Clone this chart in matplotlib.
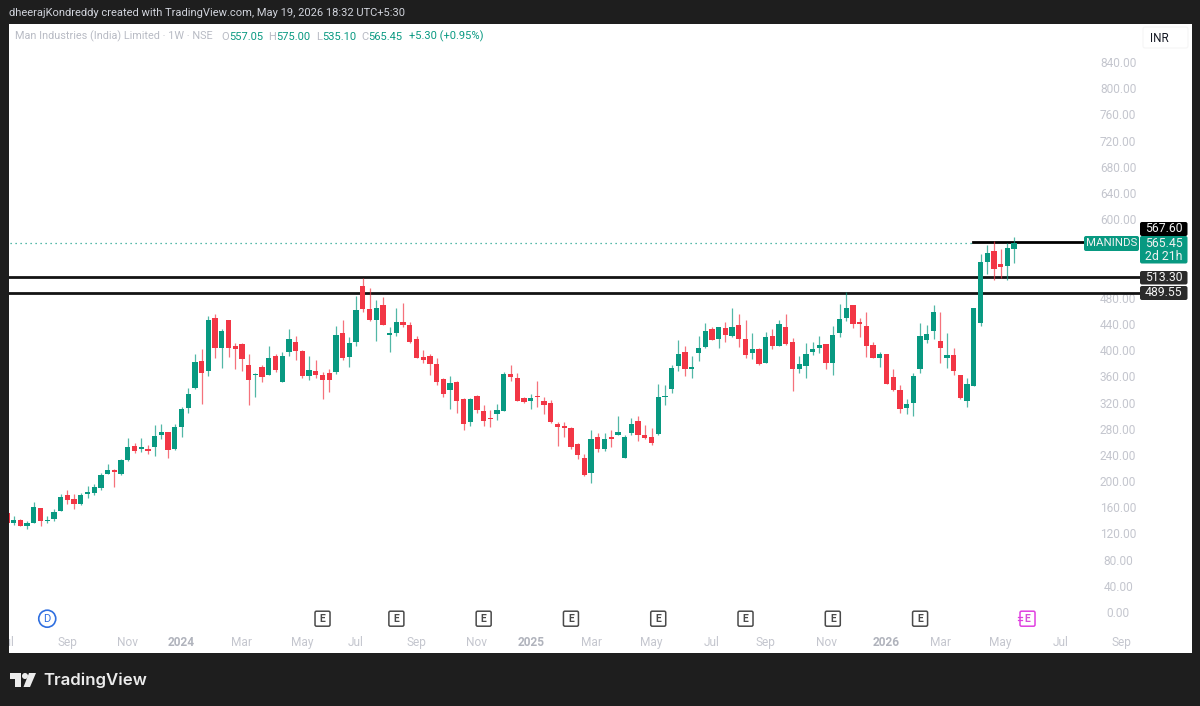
import matplotlib
matplotlib.use("Agg")
import matplotlib.pyplot as plt
from matplotlib.patches import FancyBboxPatch, Circle, Polygon

plt.rcParams['font.family'] = ['Roboto', 'DejaVu Sans']

# weekly candles, left to right
opens = [153,139,143,134,139,161,141,144,157,181,175,167,183,184,192,213,220,213,234,256,
         251,252,255,272,277,251,285,314,344,385,370,452,405,448,409,412,379,364,377,365,
         393,354,399,415,401,363,371,364,368,369,429,392,414,500,465,449,471,426,428,446,
         441,420,392,393,381,358,341,353,328,293,333,310,299,304,310,366,360,329,325,332,
         324,321,289,286,284,259,237,214,270,252,269,273,238,275,294,272,270,274,331,343,
         378,399,373,398,407,435,419,436,424,440,419,398,404,383,424,409,438,415,373,378,
         399,405,411,383,429,451,471,445,439,410,391,397,361,341,314,321,373,417,432,416,
         391,395,364,325,348,444,537,554,534,530,557.05]
closes = [139,143,134,139,162,142,143,155,178,173,167,181,186,193,211,219,216,234,255,249,
          255,249,271,277,250,285,312,336,384,367,449,405,431,405,404,389,356,366,362,391,
          372,393,419,401,363,372,364,357,356,425,391,413,464,465,448,467,441,429,445,440,
          415,391,387,381,354,335,352,324,289,328,311,294,297,311,366,361,325,323,329,331,
          319,292,285,284,254,242,212,266,251,267,267,277,270,290,272,268,261,331,333,375,
          397,373,376,405,431,418,437,425,437,419,395,404,381,423,409,442,412,374,381,397,
          404,410,383,425,450,466,442,442,408,391,396,350,341,313,320,363,424,427,461,405,
          395,370,329,350,466,537,550,526,529,559,565.45]
highs = [153,149,144,142,171,161,149,159,182,188,182,184,195,198,214,229,221,236,268,261,
         268,258,288,290,277,289,315,345,396,404,454,458,434,448,413,413,397,367,379,409,
         396,400,434,424,402,394,387,369,374,439,449,423,485,513,497,479,484,437,466,475,
         445,424,403,396,391,360,363,355,329,329,334,319,311,320,369,379,367,331,336,355,
         331,326,293,292,285,260,243,280,276,275,281,301,272,298,301,288,283,350,349,380,
         417,409,394,424,443,437,438,446,467,458,448,428,406,430,434,448,458,421,393,413,
         414,424,411,439,472,491,471,452,461,415,400,397,374,349,328,367,444,441,471,461,
         428,405,365,359,467,549,563,569,556,566,575]
lows = [135,135,133,129,138,134,139,141,157,167,160,166,176,181,188,213,193,212,233,245,
        247,243,241,267,238,250,270,306,343,320,363,390,375,392,373,371,318,330,354,365,
        369,354,394,387,360,357,359,327,338,366,387,376,408,460,447,416,440,399,424,437,
        413,390,383,364,349,331,313,306,280,287,307,286,285,296,309,355,324,321,312,315,
        305,291,256,269,251,236,210,200,246,249,255,272,238,273,263,266,257,273,318,337,
        370,363,359,385,406,417,406,414,422,407,390,389,380,383,404,409,410,340,368,360,
        395,398,373,365,422,447,436,423,392,390,377,350,340,306,304,302,368,413,420,383,
        375,364,328,316,347,439,518,510,513,509,535.10]

# 520 and 560 sit behind the price tags
price_ticks = [0,40,80,120,160,200,240,280,320,360,400,440,480,600,640,680,720,760,800,840]
month_labels = ['Jul','Sep','Nov','2024','Mar','May','Jul','Sep','Nov','2025','Mar','May',
                'Jul','Sep','Nov','2026','Mar','May','Jul','Sep']
month_weeks = [0,9,18,26,35,44,52,61,70,78,87,96,105,113,122,131,139,148,157,166]
earnings_weeks = [47,58,71,84,97,110,123,136]
next_earnings_week = 152
dividend_week = 6

level_prices = [513.30, 489.55]
top_level = 567.60
last_price = 565.45

GREEN = '#089981'
RED = '#f23645'
BG = '#1e1e1e'
GREY = '#b8bbc4'

W, H = 1200, 706
fig = plt.figure(figsize=(W / 100, H / 100), dpi=100, facecolor=BG)

# white chart panel, x 9-1192 and y 24-653 in pixels
ax = fig.add_axes([9 / W, 1 - 653 / H, 1183 / W, 629 / H], facecolor='white')
ax.set_xlim(0.304, 176.5)
ax.set_ylim(-60.2, 900.3)
ax.set_xticks([])
ax.set_yticks([])
for s in ax.spines.values():
    s.set_visible(False)

# same figure in pixel coordinates, for the price tags and the footer
deco = fig.add_axes([0, 0, 1, 1], facecolor='none')
deco.set_xlim(0, W)
deco.set_ylim(H, 0)
deco.axis('off')


def week_x(w):
    # pixel x of a week index
    return ax.transData.transform((w, 0))[0]


# lines
ax.axhline(level_prices[0], color='#131313', lw=2.0, xmax=0.957, zorder=2)
ax.axhline(level_prices[1], color='#131313', lw=2.0, xmax=0.957, zorder=2)
ax.plot([143.9, 160.5], [top_level, top_level], color='black', lw=2.0, zorder=2)
ax.plot([-1, 143.9], [last_price, last_price], color=GREEN, lw=0.9, ls=(0, (1, 3)), alpha=0.9, zorder=1)

# candles
for i in range(len(opens)):
    col = GREEN if closes[i] >= opens[i] else RED
    ax.vlines(i, lows[i], highs[i], color=col, lw=0.9, alpha=0.7, zorder=3)
    ax.bar(i, abs(closes[i] - opens[i]), bottom=min(opens[i], closes[i]), width=0.78, color=col, zorder=4)

# price scale
for p in price_ticks:
    ax.text(165.5, p, f'{p:.2f}', color='#c4c6ce', fontsize=8.6, ha='center', va='center', zorder=1)

# time scale
for w, lab in zip(month_weeks, month_labels):
    bold = lab.isdigit()
    ax.text(w, -44.5, lab, color='#b0b3bc' if bold else '#c4c6ce', fontsize=8.6, ha='center', va='center',
            fontweight='bold' if bold else 'normal', clip_on=True)

# event markers
mark_y = 618.7
for w in earnings_weeks:
    x = week_x(w)
    deco.add_patch(FancyBboxPatch((x - 7.5, mark_y - 7.5), 15, 15, boxstyle='round,pad=0,rounding_size=1.5',
                                  fc='white', ec='#4a4a4a', lw=1.1))
    deco.text(x, mark_y, 'E', color='#4a4a4a', fontsize=7.5, fontweight='bold', ha='center', va='center')
x = week_x(next_earnings_week)
deco.add_patch(FancyBboxPatch((x - 7.5, mark_y - 7.5), 15, 15, boxstyle='round,pad=0,rounding_size=1.5',
                              fc='white', ec='#e040e0', lw=1.1))
deco.text(x, mark_y, 'E', color='#d84fd8', fontsize=7.5, fontweight='bold', ha='center', va='center')
deco.plot([x - 10, x - 6], [mark_y - 1.5, mark_y - 1.5], color='#e040e0', lw=0.9)
deco.plot([x - 10, x - 6], [mark_y + 1.5, mark_y + 1.5], color='#e040e0', lw=0.9)
x = week_x(dividend_week)
deco.add_patch(Circle((x, mark_y), 8.5, fc='white', ec='#2f6fe0', lw=1.2))
deco.text(x, mark_y, 'D', color='#2f6fe0', fontsize=8, ha='center', va='center')


def tag(x0, y0, x1, y1, color, text, size=8.8):
    deco.add_patch(FancyBboxPatch((x0, y0), x1 - x0, y1 - y0, boxstyle='round,pad=0,rounding_size=2',
                                  fc=color, ec='none', zorder=5))
    deco.text((x0 + x1) / 2, (y0 + y1) / 2, text, color='#f2f2f2', fontsize=size, ha='center', va='center', zorder=6)


# price tags
tag(1140, 222, 1187.5, 236, '#000000', f'{top_level:.2f}')
deco.add_patch(FancyBboxPatch((1140, 236), 47.5, 27.5, boxstyle='round,pad=0,rounding_size=2',
                              fc=GREEN, ec='none', zorder=5))
deco.text(1164, 243.5, f'{last_price:.2f}', color='#f2f2f2', fontsize=8.8, ha='center', va='center', zorder=6)
deco.text(1164, 256, '2d 21h', color='#f2f2f2', fontsize=8.8, ha='center', va='center', zorder=6)
tag(1084, 236, 1139, 251, GREEN, 'MANINDS', size=8.2)
tag(1140, 271, 1187.5, 284.5, '#2a2a2a', f'{level_prices[0]:.2f}')
tag(1140, 286, 1187.5, 300, '#2a2a2a', f'{level_prices[1]:.2f}')

# INR button
deco.add_patch(FancyBboxPatch((1143, 27), 45, 21, boxstyle='round,pad=0,rounding_size=2',
                              fc='white', ec='#f5f5f5', lw=0.8))
deco.text(1159, 38, 'INR', color='#131722', fontsize=8.4, ha='center', va='center')

# header
deco.text(9, 13.5, 'dheerajKondreddy created with TradingView.com, May 19, 2026 18:32 UTC+5:30',
          color='#d1d4dc', fontsize=8.0, va='center')
deco.text(15, 36.5, 'Man Industries (India) Limited · 1W · NSE', color=GREY, fontsize=7.8, va='center')
for x, txt, col in [(221, 'O', GREY), (229, '557.05', GREEN), (268, 'H', GREY), (276, '575.00', GREEN),
                    (316, 'L', GREY), (322, '535.10', GREEN), (361, 'C', GREY), (368, '565.45', GREEN),
                    (409, '+5.30 (+0.95%)', GREEN)]:
    deco.text(x, 36.5, txt, color=col, fontsize=8.0, va='center')

# footer logo
deco.add_patch(Polygon([(10, 673), (20.5, 673), (20.5, 687), (15, 687), (15, 679), (10, 679)], fc='#ececec', ec='none'))
deco.add_patch(Circle((25, 676), 3, fc='#ececec', ec='none'))
deco.add_patch(Polygon([(29, 673), (36, 673), (30, 687), (23.5, 687)], fc='#ececec', ec='none'))
deco.text(43, 680, 'TradingView', color='#ececec', fontsize=12.1, fontweight='semibold', va='center', family='Inter')

fig.savefig('out.png', dpi=100, facecolor=BG)
